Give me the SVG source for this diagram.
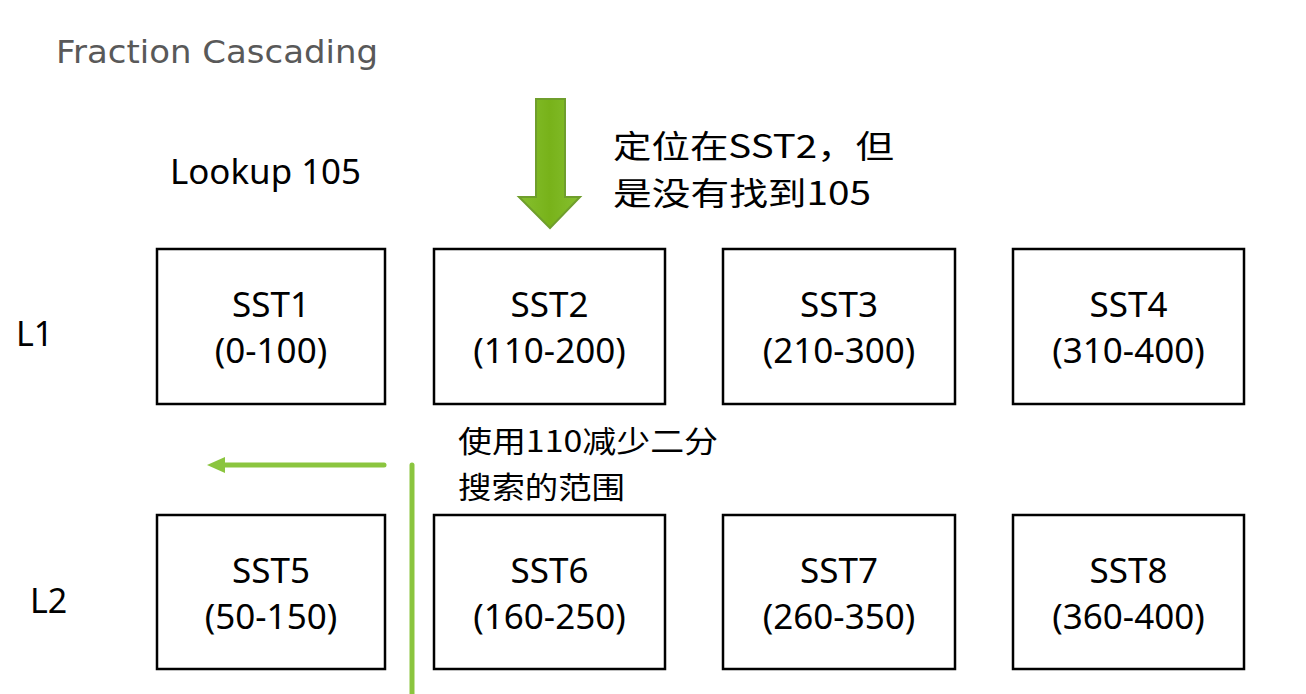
<svg xmlns="http://www.w3.org/2000/svg" width="1306" height="694" viewBox="0 0 1306 694">
<style>
.box{fill:#fff;stroke:#000;stroke-width:2.5}
.lbl{font-family:"Noto Sans","Liberation Sans",sans-serif;font-size:35px;fill:#000;text-anchor:middle}
.side{font-family:"Noto Sans","Liberation Sans",sans-serif;font-size:34px;fill:#000}
.cn{font-family:"Noto Sans CJK SC","Noto Sans",sans-serif;fill:#000}
.conn{stroke:#8bc53f;stroke-width:5;stroke-linecap:round;fill:none}
</style>
<defs>
<linearGradient id="g" x1="0" y1="0" x2="1" y2="0">
<stop offset="0" stop-color="#86c030"/>
<stop offset="0.5" stop-color="#78b21a"/>
<stop offset="1" stop-color="#86c030"/>
</linearGradient>
</defs>
<rect width="1306" height="694" fill="#fff"/>
<text x="56" y="63" font-family="DejaVu Sans, sans-serif" font-size="32" fill="#595959" textLength="322" lengthAdjust="spacingAndGlyphs">Fraction Cascading</text>
<text class="side" x="170" y="184" textLength="191" lengthAdjust="spacingAndGlyphs">Lookup 105</text>
<text class="side" x="16" y="346">L1</text>
<text class="side" x="30" y="613">L2</text>
<g id="note1">
<text class="cn" x="613" y="158" font-size="32" textLength="281" lengthAdjust="spacingAndGlyphs">定位在SST2，但</text>
<text class="cn" x="613" y="205" font-size="32" textLength="258" lengthAdjust="spacingAndGlyphs">是没有找到105</text>
</g>
<g id="note2">
<text class="cn" x="458" y="452" font-size="30" textLength="260" lengthAdjust="spacingAndGlyphs">使用110减少二分</text>
<text class="cn" x="458" y="498" font-size="30" textLength="167" lengthAdjust="spacingAndGlyphs">搜索的范围</text>
</g>
<g id="sst1"><rect class="box" x="157" y="249" width="228" height="155"/><text class="lbl" x="271" y="317">SST1</text><text class="lbl" x="271" y="363">(0-100)</text></g>
<g id="sst2"><rect class="box" x="434" y="249" width="231" height="155"/><text class="lbl" x="549.5" y="317">SST2</text><text class="lbl" x="549.5" y="363">(110-200)</text></g>
<g id="sst3"><rect class="box" x="723" y="249" width="232" height="155"/><text class="lbl" x="839" y="317">SST3</text><text class="lbl" x="839" y="363">(210-300)</text></g>
<g id="sst4"><rect class="box" x="1013" y="249" width="231" height="155"/><text class="lbl" x="1128.5" y="317">SST4</text><text class="lbl" x="1128.5" y="363">(310-400)</text></g>
<g id="sst5"><rect class="box" x="157" y="515" width="228" height="154"/><text class="lbl" x="271" y="583">SST5</text><text class="lbl" x="271" y="629">(50-150)</text></g>
<g id="sst6"><rect class="box" x="434" y="515" width="231" height="154"/><text class="lbl" x="549.5" y="583">SST6</text><text class="lbl" x="549.5" y="629">(160-250)</text></g>
<g id="sst7"><rect class="box" x="723" y="515" width="232" height="154"/><text class="lbl" x="839" y="583">SST7</text><text class="lbl" x="839" y="629">(260-350)</text></g>
<g id="sst8"><rect class="box" x="1013" y="515" width="231" height="154"/><text class="lbl" x="1128.5" y="583">SST8</text><text class="lbl" x="1128.5" y="629">(360-400)</text></g>
<g id="connectors">
<polygon points="536,99 565,99 565,197 580,197 550,228 519,197 536,197" fill="url(#g)" stroke="#6f9e2c" stroke-width="2" stroke-linejoin="miter"/>
<line class="conn" x1="384" y1="465" x2="222" y2="465"/>
<polygon points="207,465 225,457 225,473" fill="#8bc53f"/>
<line class="conn" x1="412" y1="465" x2="412" y2="696"/>
</g>
</svg>
